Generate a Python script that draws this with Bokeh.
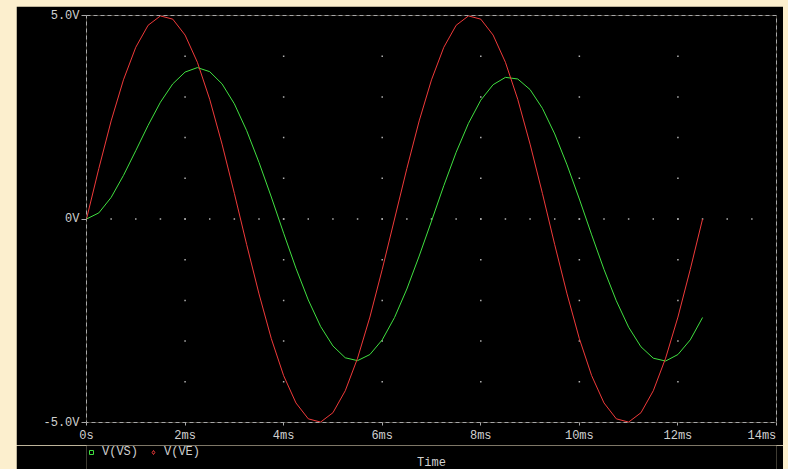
from bokeh.plotting import figure
from bokeh.layouts import column
from bokeh.models import Range1d, FixedTicker, Legend, LegendItem, Label
from bokeh.embed import file_html
from bokeh.resources import INLINE

# ---- data (time in ms, voltages in V) ----
time_ms = [0.00, 0.25, 0.50, 0.75, 1.00, 1.25, 1.50, 1.75, 2.00, 2.25, 2.50, 2.75,
           3.00, 3.25, 3.50, 3.75, 4.00, 4.25, 4.50, 4.75, 5.00, 5.25, 5.50, 5.75,
           6.00, 6.25, 6.50, 6.75, 7.00, 7.25, 7.50, 7.75, 8.00, 8.25, 8.50, 8.75,
           9.00, 9.25, 9.50, 9.75, 10.00, 10.25, 10.50, 10.75, 11.00, 11.25, 11.50,
           11.75, 12.00, 12.25, 12.50]
v_ve = [0.00, 1.24, 2.41, 3.42, 4.22, 4.76, 4.99, 4.91, 4.52, 3.85, 2.94, 1.84,
        0.63, -0.63, -1.84, -2.94, -3.85, -4.52, -4.91, -4.99, -4.76, -4.22, -3.42,
        -2.41, -1.24, 0.00, 1.24, 2.41, 3.42, 4.22, 4.76, 4.99, 4.91, 4.52, 3.85,
        2.94, 1.84, 0.63, -0.63, -1.84, -2.94, -3.85, -4.52, -4.91, -4.99, -4.76,
        -4.22, -3.42, -2.41, -1.24, 0.00]
v_vs = [0.00, 0.15, 0.53, 1.07, 1.68, 2.30, 2.87, 3.32, 3.61, 3.72, 3.62, 3.32,
        2.83, 2.17, 1.39, 0.54, -0.35, -1.21, -1.99, -2.64, -3.12, -3.41, -3.48,
        -3.33, -2.97, -2.42, -1.72, -0.91, -0.05, 0.82, 1.64, 2.35, 2.92, 3.30,
        3.48, 3.44, 3.18, 2.72, 2.09, 1.33, 0.49, -0.39, -1.24, -2.01, -2.66,
        -3.14, -3.42, -3.49, -3.33, -2.97, -2.42]

x_ticks = [0, 2, 4, 6, 8, 10, 12, 14]
x_tick_labels = ["0s", "2ms", "4ms", "6ms", "8ms", "10ms", "12ms", "14ms\u00a0"]
y_ticks = [-5, 0, 5]
y_tick_labels = ["-5.0V", "0V", "5.0V"]
y_grid_levels = [-4, -3, -2, -1, 0, 1, 2, 3, 4]
zero_row_steps = [i * 0.5 for i in range(1, 28)]
series_names = ["V(VS)", "V(VE)"]
x_title = "Time"

CREAM = "#FCEFCE"
TXT = "#D0D0D0"
AXC = "#A8A8A8"
RED = "#F03A3A"
GREEN = "#40E040"
FONT = "Liberation Mono"

# ---- main plot ----
p = figure(width=767, height=439,
           x_range=Range1d(0, 14), y_range=Range1d(-5, 5),
           output_backend="svg", toolbar_location=None,
           min_border_left=70, min_border_right=7, min_border_top=9, min_border_bottom=23,
           background_fill_color="black", border_fill_color="black")
p.xgrid.visible = False
p.ygrid.visible = False
p.outline_line_color = AXC
p.outline_line_dash = "4 3"
p.outline_line_width = 1

for ax in (p.xaxis[0], p.yaxis[0]):
    ax.axis_line_color = None
    ax.minor_tick_line_color = None
    ax.major_tick_line_color = AXC
    ax.major_label_text_font = FONT
    ax.major_label_text_font_size = "12px"
    ax.major_label_text_color = TXT

p.xaxis.ticker = FixedTicker(ticks=x_ticks)
p.xaxis.major_label_overrides = {t: s for t, s in zip(x_ticks, x_tick_labels)}
p.xaxis.major_tick_in = 0
p.xaxis.major_tick_out = 3
p.xaxis.major_label_standoff = 3

p.yaxis.ticker = FixedTicker(ticks=y_ticks)
p.yaxis.major_label_overrides = {t: s for t, s in zip(y_ticks, y_tick_labels)}
p.yaxis.major_tick_in = 0
p.yaxis.major_tick_out = 5
p.yaxis.major_label_standoff = 2

# grid dots
gx, gy = [], []
for xt in x_ticks[1:-1]:
    for yl in y_grid_levels:
        gx.append(xt)
        gy.append(yl)
for xs in zero_row_steps:
    gx.append(xs)
    gy.append(0)
p.scatter(gx, gy, marker="square", size=1.5, fill_color="#B0B0B0", line_color=None)

# curves
p.line(time_ms, v_vs, line_color=GREEN, line_width=1)
p.line(time_ms, v_ve, line_color=RED, line_width=1)

# ---- strip below: legend + "Time" ----
p2 = figure(width=767, height=24, x_range=Range1d(0, 1), y_range=Range1d(0, 1),
            output_backend="svg", toolbar_location=None,
            x_axis_location=None, y_axis_location=None,
            min_border_left=70, min_border_right=7, min_border_top=0, min_border_bottom=0,
            background_fill_color="black", border_fill_color="black")
p2.outline_line_color = None
p2.xgrid.visible = False
p2.ygrid.visible = False

# legend swatches (single point kept outside the visible range; only the legend shows them)
r_s = p2.scatter([-10], [-10], marker="square", size=5, fill_color=None, line_color=GREEN, line_width=1)
r_d = p2.scatter([-10], [-10], marker="diamond", size=7, fill_color=None, line_color=RED, line_width=1)
legend = Legend(items=[LegendItem(label=series_names[0], renderers=[r_s]),
                       LegendItem(label=series_names[1], renderers=[r_d])],
                orientation="horizontal", location="top_left",
                label_text_font=FONT, label_text_font_size="12px", label_text_color=TXT,
                glyph_width=10, glyph_height=12, label_height=12, label_standoff=6,
                spacing=10, padding=0, margin=0, border_line_color=None,
                background_fill_alpha=0)
p2.add_layout(legend)

p2.add_layout(Label(x=0.5, y=7, x_units="data", y_units="screen", text=x_title,
                    text_align="center", text_baseline="alphabetic",
                    text_font=FONT, text_font_size="12px", text_color=TXT))

layout = column(p, p2, spacing=0)
layout.margin = (6, 0, 0, 16)

html = file_html(layout, INLINE)
style = "<style>html, body { margin: 0 !important; padding: 0; background: %s !important; overflow: hidden; }</style>" % CREAM
html = html.replace("</head>", style + "</head>", 1)
open("out.html", "w").write(html)
